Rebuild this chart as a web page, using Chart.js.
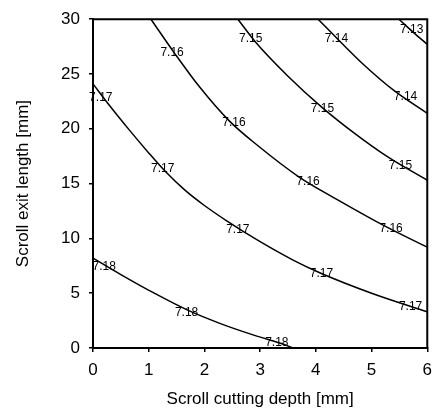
<!DOCTYPE html>
<html>
<head>
<meta charset="utf-8">
<script src="https://cdn.jsdelivr.net/npm/chart.js@4"></script>
<style>
  body { margin: 0; background: #fff; }
</style>
</head>
<body>
<canvas id="chart" width="440" height="413"></canvas>
<script>
// contour lines (x = cutting depth, y = exit length)
const c718x = [0, 0.5, 1.1, 1.7, 2.3, 2.9, 3.35, 3.6];
const c718y = [8.2, 6.7, 5.0, 3.45, 2.2, 1.15, 0.45, 0];
const c717x = [0, 0.3, 0.65, 1.0, 1.3, 1.65, 2.0, 2.4, 3.0, 3.6, 4.1, 5.0, 6];
const c717y = [24.1, 22.1, 19.9, 17.8, 16.1, 14.4, 13.0, 11.6, 9.7, 8.0, 6.8, 5.0, 3.3];
const c716x = [1.04, 1.45, 1.9, 2.45, 2.95, 3.7, 4.4, 5.25, 6];
const c716y = [30, 27.0, 23.9, 20.7, 18.5, 15.6, 13.5, 11.1, 9.2];
const c715x = [2.6, 2.92, 3.5, 4.1, 4.69, 5.27, 6];
const c715y = [30, 27.9, 24.8, 22.0, 19.6, 17.5, 15.3];
const c714x = [4.04, 4.39, 4.87, 5.4, 6];
const c714y = [30, 28.2, 25.8, 23.5, 21.4];
const c713x = [5.49, 5.75, 6];
const c713y = [30, 28.8, 27.7];

// inline labels on the lines
const labelText = ['7.18', '7.18', '7.18', '7.17', '7.17', '7.17', '7.17', '7.17',
  '7.16', '7.16', '7.16', '7.16', '7.15', '7.15', '7.15', '7.14', '7.14', '7.13'];
const labelX = [0.2, 1.68, 3.3, 0.14, 1.25, 2.6, 4.1, 5.7,
  1.42, 2.53, 3.86, 5.35, 2.83, 4.12, 5.52, 4.37, 5.61, 5.72];
const labelY = [7.4, 3.2, 0.45, 22.8, 16.4, 10.8, 6.8, 3.8,
  26.9, 20.6, 15.2, 10.9, 28.2, 21.8, 16.6, 28.2, 22.9, 29.0];

const FONT = 'Arial, "Liberation Sans", sans-serif';

function toPoints(xs, ys){
	let pts = [];
	for(let i=0; i<xs.length; i++){
		pts.push({x: xs[i], y: ys[i]});
	}
	return pts;
}

function lineSet(xs, ys){
	return {
		data: toPoints(xs, ys),
		borderColor: '#000',
		borderWidth: 1.5,
		pointRadius: 0,
		showLine: true,
		fill: false,
		cubicInterpolationMode: 'monotone'
	};
}

// frame on top and right + the contour labels
const extras = {
	id: 'extras',
	afterDatasetsDraw(chart){
		const ctx = chart.ctx;
		const a = chart.chartArea;
		const sx = chart.scales.x, sy = chart.scales.y;
		ctx.save();
		ctx.strokeStyle = '#000';
		ctx.lineWidth = 2;
		ctx.beginPath();
		ctx.moveTo(a.left, a.top);
		ctx.lineTo(a.right, a.top);
		ctx.lineTo(a.right, a.bottom);
		ctx.stroke();
		ctx.fillStyle = '#000';
		ctx.font = '12px ' + FONT;
		ctx.textAlign = 'center';
		ctx.textBaseline = 'middle';
		for(let i=0; i<labelText.length; i++){
			ctx.fillText(labelText[i], sx.getPixelForValue(labelX[i]), sy.getPixelForValue(labelY[i]));
		}
		ctx.restore();
	}
};

const ctx = document.querySelector('#chart');
const chart = new Chart(ctx, {
	type: 'line',
	data: {
		datasets: [
			lineSet(c718x, c718y),
			lineSet(c717x, c717y),
			lineSet(c716x, c716y),
			lineSet(c715x, c715y),
			lineSet(c714x, c714y),
			lineSet(c713x, c713y)
		]
	},
	options: {
		responsive: false,
		animation: false,
		layout: {padding: {left: 0, right: 6, top: 13, bottom: 0}},
		plugins: {legend: {display: false}, tooltip: {enabled: false}},
		scales: {
			x: {
				type: 'linear', min: 0, max: 6,
				ticks: {stepSize: 1, color: '#000', font: {family: FONT, size: 17}, padding: 8},
				grid: {drawOnChartArea: false, tickLength: 4, color: '#000', lineWidth: 1.5},
				border: {color: '#000', width: 2},
				title: {display: true, text: 'Scroll cutting depth [mm]', color: '#000',
					font: {family: FONT, size: 17}, padding: {top: 0, bottom: 3}},
				afterFit(s){ s.height = 65; }
			},
			y: {
				type: 'linear', min: 0, max: 30,
				ticks: {stepSize: 5, color: '#000', font: {family: FONT, size: 17}, padding: 9},
				grid: {drawOnChartArea: false, tickLength: 4, color: '#000', lineWidth: 1.5},
				border: {color: '#000', width: 2},
				title: {display: true, text: 'Scroll exit length [mm]', color: '#000',
					font: {family: FONT, size: 17}, padding: {top: 13, bottom: 0}},
				afterFit(s){ s.width = 93; }
			}
		}
	},
	plugins: [extras]
});
</script>
</body>
</html>
